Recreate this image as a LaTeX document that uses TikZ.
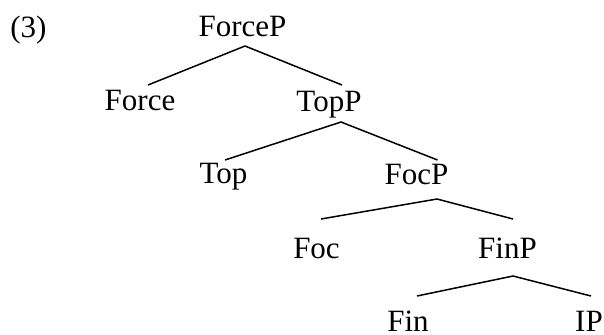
\documentclass[tikz,border=0pt]{standalone}
\usepackage{fontspec}
\setmainfont{Liberation Serif}
\usetikzlibrary{calc}
\tikzset{cat/.style={inner sep=0pt,anchor=base,font=\fontsize{15.5}{18}\selectfont},
         branch/.style={line width=0.75pt}}

\begin{document}
\begin{tikzpicture}[x=0.5pt,y=-0.5pt]
\useasboundingbox (0,0) rectangle (604,334);
\node[cat,anchor=base west] (ex) at (10,37) {(3)};
\node[cat] (ForceP) at (242.5,36) {ForceP};
\node[cat] (Force)  at (140,110)  {Force};
\node[cat] (TopP)   at (329,111)  {TopP};
\node[cat] (Top)    at (223.5,183) {Top};
\node[cat] (FocP)   at (416.5,184) {FocP};
\node[cat] (Foc)    at (316.5,258) {Foc};
\node[cat] (FinP)   at (507.5,258) {FinP};
\node[cat] (Fin)    at (408,331) {Fin};
\node[cat] (IP)     at (589,331) {IP};
% branches
\draw[branch] ($(Force.base)+(8,-25)$) -- ($(ForceP.base)+(2.5,10)$) -- ($(TopP.base)+(13,-26)$);
\draw[branch] ($(Top.base)+(1.5,-23)$) -- ($(TopP.base)+(12,11)$) -- ($(FocP.base)+(21,-24)$);
\draw[branch] ($(Foc.base)+(4.5,-39)$) -- ($(FocP.base)+(20.5,15)$) -- ($(FinP.base)+(5.5,-39)$);
\draw[branch] ($(Fin.base)+(9,-35)$) -- ($(FinP.base)+(5.5,18)$) -- ($(IP.base)+(2,-35)$);
\end{tikzpicture}
\end{document}
